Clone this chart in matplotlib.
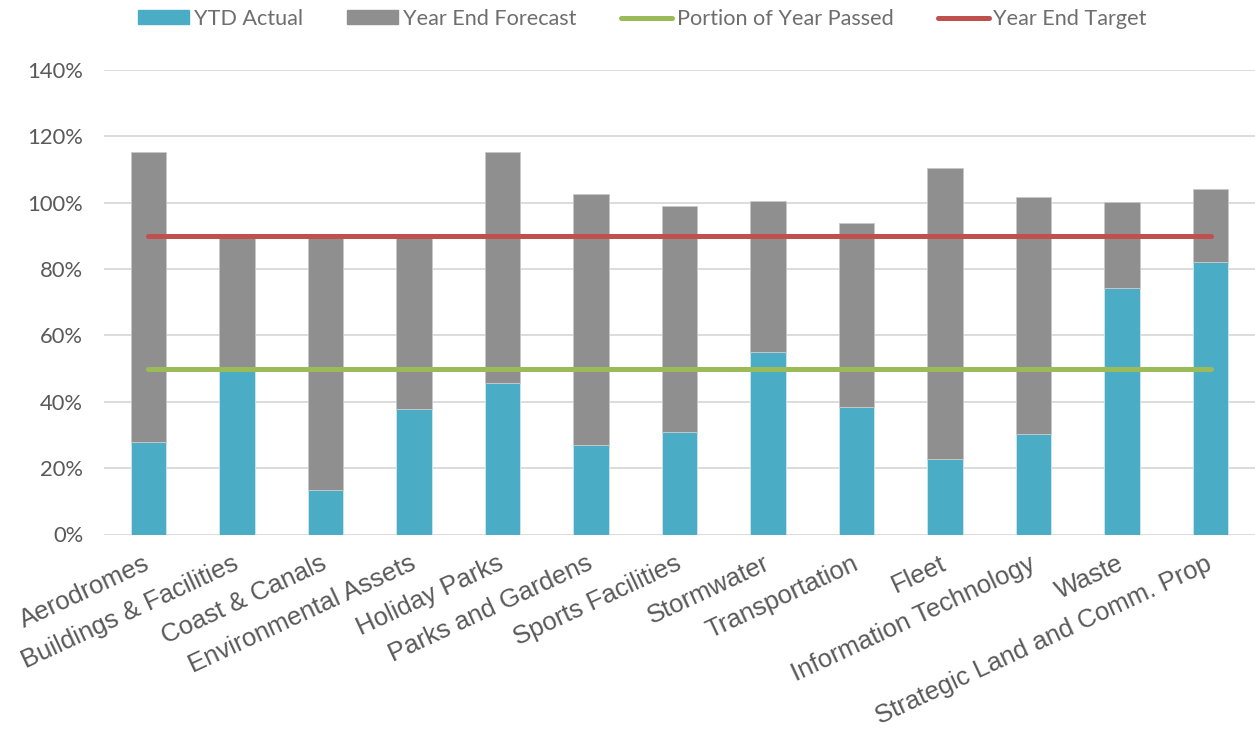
import matplotlib
matplotlib.use("Agg")
import matplotlib.pyplot as plt
from matplotlib.patches import Rectangle
from matplotlib.ticker import PercentFormatter
from matplotlib.lines import Line2D

categories = ["Aerodromes", "Buildings & Facilities", "Coast & Canals",
              "Environmental Assets", "Holiday Parks", "Parks and Gardens",
              "Sports Facilities", "Stormwater", "Transportation", "Fleet",
              "Information Technology", "Waste", "Strategic Land and Comm. Prop"]
ytd_actual = [28.0, 49.3, 13.5, 37.7, 45.6, 27.0, 30.8, 55.0, 38.4, 22.9, 30.4, 74.3, 82.2]
year_end_forecast = [115.3, 90.0, 90.0, 90.0, 115.3, 102.7, 99.1, 100.6, 93.9, 110.4, 101.7, 100.2, 104.1]
portion_passed = 50.0
year_end_target = 90.0

teal = "#4BACC6"
grey = "#8F8F8F"
green = "#9BBB59"
red = "#C0504D"
txt = "#595959"

x = list(range(len(categories)))
remaining = [f - a for f, a in zip(year_end_forecast, ytd_actual)]

fig = plt.figure(figsize=(12.55, 7.35), dpi=100)
ax = fig.add_axes([104 / 1255, 1 - 534.5 / 735, 1 - 104 / 1255, (534.5 - 70) / 735])

ax.bar(x, ytd_actual, width=0.4, color=teal, edgecolor="#CFE6EE", linewidth=0.6, zorder=2)
ax.bar(x, remaining, width=0.4, bottom=ytd_actual, color=grey, edgecolor="#C8C8C8", linewidth=0.6, zorder=2)
ax.plot([x[0], x[-1]], [portion_passed] * 2, color=green, lw=3.6, solid_capstyle="round", zorder=3)
ax.plot([x[0], x[-1]], [year_end_target] * 2, color=red, lw=3.6, solid_capstyle="round", zorder=3)

ax.set_xlim(-0.5, 12.5)
ax.set_ylim(0, 140)
ax.set_yticks(range(0, 141, 20))
ax.yaxis.set_major_formatter(PercentFormatter(decimals=0))
ax.grid(axis="y", color="#D9D9D9", lw=1.3, zorder=0)
for s in ax.spines.values():
    s.set_visible(False)
ax.tick_params(axis="y", length=0, pad=15, labelsize=15.8, labelcolor=txt)
for lab in ax.get_yticklabels():
    lab.set_fontfamily("Lato")
ax.tick_params(axis="x", length=0, pad=20)
ax.set_xticks(x)
ax.set_xticklabels(categories, rotation=25, ha="right", va="center",
                   rotation_mode="anchor", fontsize=18.5, color=txt,
                   fontfamily="Liberation Sans")

handles = [Rectangle((0, 0), 1, 1, color=teal), Rectangle((0, 0), 1, 1, color=grey),
           Line2D([], [], color=green, lw=3.6, solid_capstyle="round"),
           Line2D([], [], color=red, lw=3.6, solid_capstyle="round")]
labels = ["YTD Actual", "Year End Forecast", "Portion of Year Passed", "Year End Target"]
leg = fig.legend(handles, labels, loc="upper left", bbox_to_anchor=(138 / 1255, 1 - 9 / 735),
                 ncol=4, frameon=False, handlelength=2.35, handleheight=0.6,
                 handletextpad=0.22, columnspacing=2.05, borderpad=0, borderaxespad=0,
                 prop={"family": "Lato", "size": 15.6})
for t in leg.get_texts():
    t.set_color("#6E6E6E")

fig.savefig("out.png", dpi=100)
